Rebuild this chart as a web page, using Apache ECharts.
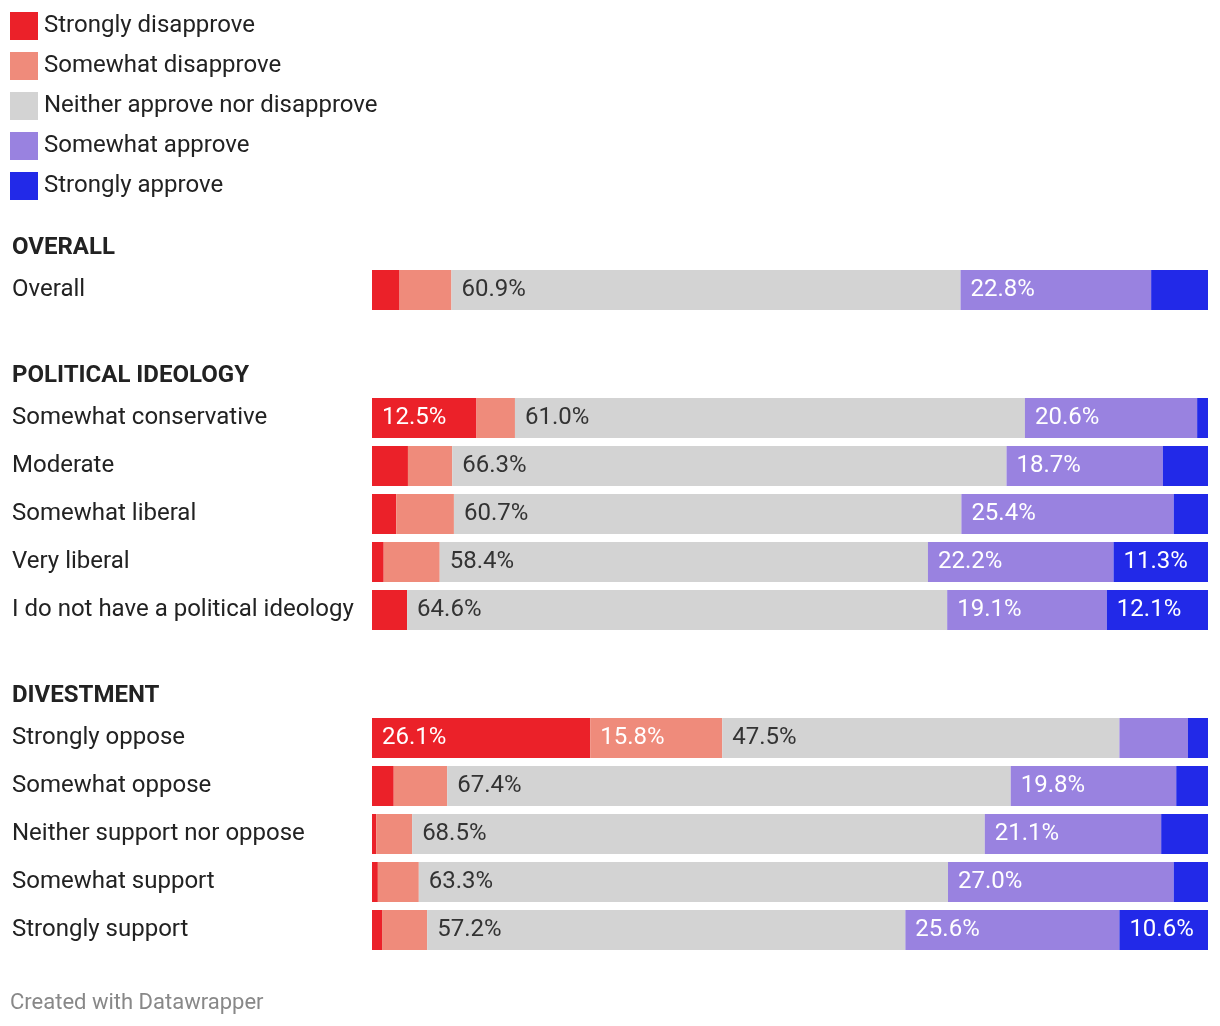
<!DOCTYPE html>
<html>
<head>
<meta charset="utf-8">
<script src="https://cdn.jsdelivr.net/npm/echarts@6/dist/echarts.min.js"></script>
<style>
html,body{margin:0;padding:0;background:#fff;}
#chart{width:1220px;height:1026px;}
</style>
</head>
<body>
<div id="chart"></div>
<script>
const groupTitles = ['OVERALL', 'POLITICAL IDEOLOGY', 'DIVESTMENT'];
const overallCats = ['Overall'];
const ideologyCats = ['Somewhat conservative', 'Moderate', 'Somewhat liberal', 'Very liberal', 'I do not have a political ideology'];
const divestCats = ['Strongly oppose', 'Somewhat oppose', 'Neither support nor oppose', 'Somewhat support', 'Strongly support'];
const levelNames = ['Strongly disapprove', 'Somewhat disapprove', 'Neither approve nor disapprove', 'Somewhat approve', 'Strongly approve'];

// rows in order: Overall, 5 ideology rows, 5 divestment rows
const stronglyDisapprove = [3.3, 12.5, 4.3, 2.9, 1.4, 4.2, 26.1, 2.6, 0.5, 0.7, 1.2];
const somewhatDisapprove = [6.2, 4.6, 5.3, 6.9, 6.7, 0.0, 15.8, 6.4, 4.3, 4.9, 5.4];
const neitherApprove     = [60.9, 61.0, 66.3, 60.7, 58.4, 64.6, 47.5, 67.4, 68.5, 63.3, 57.2];
const somewhatApprove    = [22.8, 20.6, 18.7, 25.4, 22.2, 19.1, 8.2, 19.8, 21.1, 27.0, 25.6];
const stronglyApprove    = [6.8, 1.3, 5.4, 4.1, 11.3, 12.1, 2.4, 3.8, 5.6, 4.1, 10.6];

const levelValues = [stronglyDisapprove, somewhatDisapprove, neitherApprove, somewhatApprove, stronglyApprove];
const colors = ['#EB2129', '#EF8B7B', '#D3D3D3', '#9982E0', '#2229E8'];
const labelColors = ['#fff', '#fff', '#333', '#fff', '#fff'];

const groups = [overallCats, ideologyCats, divestCats];
const FONT = 'Roboto, sans-serif';

const gridDefs = [
  {top: 266, height: 48},
  {top: 394, height: 240},
  {top: 714, height: 240}
];
const headerY = [246, 374, 694];

const grids = [], xAxes = [], yAxes = [], series = [];
let offset = 0;
groups.forEach((cats, gi) => {
  grids.push({left: 372, right: 12, top: gridDefs[gi].top, height: gridDefs[gi].height, containLabel: false});
  xAxes.push({type: 'value', gridIndex: gi, min: 0, max: 100, show: false});
  yAxes.push({
    type: 'category', gridIndex: gi, data: cats, inverse: true,
    axisLine: {show: false}, axisTick: {show: false}, splitLine: {show: false},
    axisLabel: {align: 'left', margin: 360, fontSize: 24, color: '#222', fontFamily: FONT, padding: [4, 0, 0, 0]}
  });
  levelNames.forEach((name, li) => {
    series.push({
      type: 'bar', name: name, stack: 'g' + gi, xAxisIndex: gi, yAxisIndex: gi,
      barWidth: 40,
      itemStyle: {color: colors[li]},
      emphasis: {disabled: true},
      label: {
        show: true, position: 'insideLeft', distance: 10,
        color: labelColors[li], fontSize: 24, fontFamily: FONT, padding: [4, 0, 0, 0],
        formatter: p => p.value >= 10 ? p.value.toFixed(1) + '%' : ''
      },
      data: levelValues[li].slice(offset, offset + cats.length)
    });
  });
  offset += cats.length;
});

const graphics = groupTitles.map((t, i) => ({
  type: 'text', left: 12, top: headerY[i] - 10,
  style: {text: t, fontSize: 24, fontWeight: 'bold', fill: '#222', fontFamily: FONT}
}));
graphics.push({
  type: 'text', left: 10, top: 992,
  style: {text: 'Created with Datawrapper', fontSize: 22, fill: '#888', fontFamily: FONT}
});

const chart = echarts.init(document.getElementById('chart'), null, {renderer: 'canvas'});
chart.setOption({
  animation: false,
  backgroundColor: '#fff',
  textStyle: {fontFamily: FONT},
  legend: {
    orient: 'vertical', left: 10, top: 12, padding: 0, icon: 'rect',
    itemWidth: 28, itemHeight: 28, itemGap: 12, selectedMode: false,
    data: levelNames,
    textStyle: {fontSize: 24, color: '#222', fontFamily: FONT, padding: [4, 0, 0, 1]}
  },
  grid: grids,
  xAxis: xAxes,
  yAxis: yAxes,
  series: series,
  graphic: graphics
});
</script>
</body>
</html>
